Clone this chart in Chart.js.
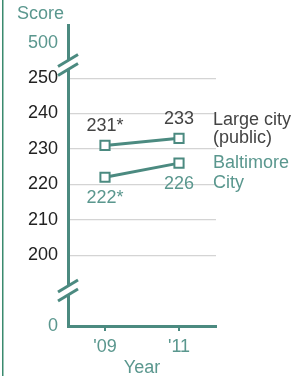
<!DOCTYPE html>
<html>
<head>
<meta charset="utf-8">
<script src="https://cdn.jsdelivr.net/npm/chart.js@4.4.0/dist/chart.umd.min.js"></script>
<style>
  html, body { margin: 0; padding: 0; background: #fff; }
  canvas { display: block; }
</style>
</head>
<body>
<canvas id="chart" width="291" height="376"></canvas>
<script>
// 数据
const years = ["'09", "'11"];
const largeCity = [231, 233];
const baltimore = [222, 226];
const largeCityLabels = ['231*', '233'];
const baltimoreLabels = ['222*', '226'];
const largeCityName = ['Large city', '(public)'];
const baltimoreName = ['Baltimore', 'City'];
// 断轴：180 显示为 0，260 显示为 500
const yTicks = [180, 200, 210, 220, 230, 240, 250, 260];
const yTickText = { 180: '0', 260: '500' };
const yBreaks = [190, 253.7];

const TEAL = '#4b8a80';
const TEAL_TEXT = '#5a978e';
const GRAY_TEXT = '#444';
const FONT = '"Liberation Sans", Arial, sans-serif';

// 自定义文字、断轴标记
const decorPlugin = {
    id: 'decor',
    afterDraw(chart) {
        const { ctx, chartArea, scales } = chart;
        const y = scales.y;
        ctx.save();

        // 左侧竖线
        ctx.fillStyle = '#3a8a6e';
        ctx.fillRect(2, 0, 1.5, chart.height);

        // Score 标题
        ctx.fillStyle = TEAL_TEXT;
        ctx.font = '18px ' + FONT;
        ctx.textAlign = 'left';
        ctx.textBaseline = 'middle';
        ctx.fillText('Score', 17, 14);

        // 断轴 //
        const ax = chartArea.left;
        yBreaks.forEach(v => {
            const cy = y.getPixelForValue(v);
            const dx = 10, dy = 6, gap = 4.5;
            ctx.fillStyle = '#fff';
            ctx.beginPath();
            ctx.moveTo(ax - dx, cy + dy - gap);
            ctx.lineTo(ax + dx, cy - dy - gap);
            ctx.lineTo(ax + dx, cy - dy + gap);
            ctx.lineTo(ax - dx, cy + dy + gap);
            ctx.closePath();
            ctx.fill();
            ctx.strokeStyle = TEAL;
            ctx.lineWidth = 3;
            [-gap, gap].forEach(o => {
                ctx.beginPath();
                ctx.moveTo(ax - dx, cy + dy + o);
                ctx.lineTo(ax + dx, cy - dy + o);
                ctx.stroke();
            });
        });

        // 数据标签
        ctx.font = '18px ' + FONT;
        ctx.textAlign = 'center';
        const m0 = chart.getDatasetMeta(0).data;
        const m1 = chart.getDatasetMeta(1).data;
        ctx.fillStyle = GRAY_TEXT;
        m0.forEach((p, i) => ctx.fillText(largeCityLabels[i], p.x, p.y - 19));
        ctx.fillStyle = TEAL_TEXT;
        m1.forEach((p, i) => ctx.fillText(baltimoreLabels[i], p.x, p.y + 21));

        // 系列名称
        ctx.textAlign = 'left';
        const nx = chartArea.right - 3;
        const last0 = m0[m0.length - 1], last1 = m1[m1.length - 1];
        ctx.fillStyle = GRAY_TEXT;
        ctx.fillText(largeCityName[0], nx, last0.y - 18);
        ctx.fillText(largeCityName[1], nx, last0.y);
        ctx.fillStyle = TEAL_TEXT;
        ctx.fillText(baltimoreName[0], nx, last1.y);
        ctx.fillText(baltimoreName[1], nx, last1.y + 20);

        ctx.restore();
    }
};

const seriesStyle = {
    borderColor: TEAL,
    borderWidth: 3,
    pointStyle: 'rect',
    pointRadius: 6.5,
    pointBackgroundColor: '#fff',
    pointBorderColor: TEAL,
    pointBorderWidth: 2,
    tension: 0
};

new Chart(document.getElementById('chart'), {
    type: 'line',
    data: {
        labels: years,
        datasets: [
            { label: 'Large city (public)', data: largeCity, ...seriesStyle },
            { label: 'Baltimore City', data: baltimore, ...seriesStyle }
        ]
    },
    options: {
        responsive: false,
        animation: false,
        layout: { padding: { left: 0, right: 75, top: 25, bottom: 0 } },
        plugins: { legend: { display: false }, tooltip: { enabled: false } },
        scales: {
            x: {
                offset: true,
                afterFit: s => { s.height = 50; },
                border: { display: true, color: TEAL, width: 3 },
                grid: {
                    drawOnChartArea: false,
                    drawTicks: true,
                    tickLength: 5,
                    color: TEAL,
                    lineWidth: 2
                },
                ticks: {
                    color: TEAL_TEXT,
                    font: { family: FONT, size: 18 },
                    padding: 5,
                    maxRotation: 0
                },
                title: {
                    display: true,
                    text: 'Year',
                    color: TEAL_TEXT,
                    font: { family: FONT, size: 18, lineHeight: 1 },
                    padding: { top: 0, bottom: -1 }
                }
            },
            y: {
                min: 180,
                max: 265,
                afterFit: s => { s.width = 68; },
                afterBuildTicks: s => { s.ticks = yTicks.map(v => ({ value: v })); },
                border: { display: true, color: TEAL, width: 3 },
                grid: {
                    drawTicks: false,
                    lineWidth: 1.2,
                    color: c => (c.tick && c.tick.value >= 200 && c.tick.value <= 250) ? '#d4d4d4' : 'rgba(0,0,0,0)'
                },
                ticks: {
                    padding: 10,
                    font: { family: FONT, size: 18 },
                    color: c => (yTickText[c.tick.value] !== undefined) ? TEAL_TEXT : '#222',
                    callback: v => (yTickText[v] !== undefined ? yTickText[v] : String(v))
                }
            }
        }
    },
    plugins: [decorPlugin]
});
</script>
</body>
</html>
